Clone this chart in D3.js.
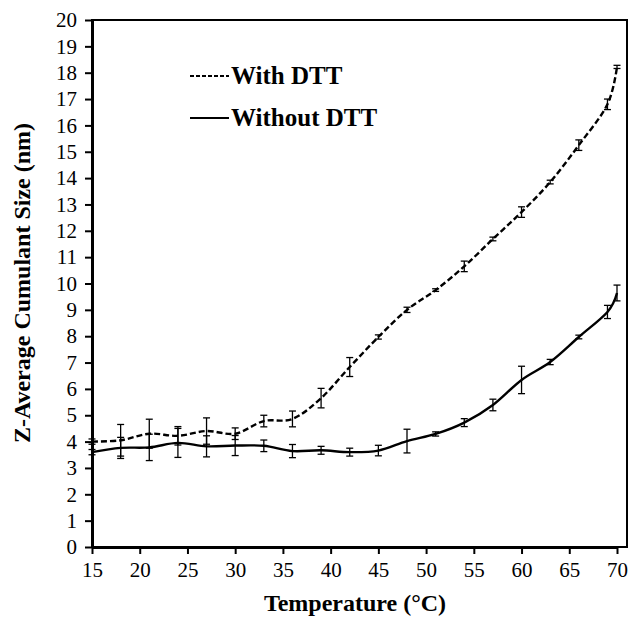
<!DOCTYPE html>
<html>
<head>
<meta charset="utf-8">
<script src="https://cdn.jsdelivr.net/npm/d3@7"></script>
<style>
  body { margin: 0; background: #fff; }
  svg { display: block; }
</style>
</head>
<body>
<svg id="canvas" width="630" height="619"></svg>
<script>
// temperatures where the size was measured
const temps = [15, 18, 21, 24, 27, 30, 33, 36, 39, 42, 45, 48, 51, 54, 57, 60, 63, 66, 69, 70];

// with DTT (dashed line)
const withDTT = [4.0, 4.05, 4.3, 4.22, 4.4, 4.3, 4.78, 4.86, 5.65, 6.83, 7.97, 9.0, 9.75, 10.65, 11.69, 12.71, 13.85, 15.25, 16.8, 18.22];
const withErr = [0.1, 0.6, 0.55, 0.35, 0.5, 0.22, 0.22, 0.3, 0.37, 0.36, 0.08, 0.1, 0.05, 0.2, 0.07, 0.2, 0.07, 0.2, 0.2, 0.06];

// without DTT (solid line)
const withoutDTT = [3.6, 3.76, 3.78, 3.95, 3.82, 3.85, 3.84, 3.64, 3.67, 3.6, 3.66, 4.02, 4.29, 4.72, 5.39, 6.34, 7.02, 7.97, 8.92, 9.64];
const withoutErr = [0.1, 0.4, 0.5, 0.55, 0.4, 0.38, 0.22, 0.25, 0.15, 0.15, 0.2, 0.45, 0.08, 0.15, 0.22, 0.52, 0.1, 0.07, 0.25, 0.3];

const xTicks = d3.range(15, 71, 5);
const yTicks = d3.range(0, 21, 1);

const serif = "'Liberation Serif', 'Times New Roman', serif";
const svg = d3.select("#canvas");

const x = d3.scaleLinear().domain([15, 70]).range([92, 617]);
const y = d3.scaleLinear().domain([0, 20]).range([547, 20]);

// plot frame (right side sits a bit past the last tick)
svg.append("rect")
  .attr("x", 92).attr("y", 20)
  .attr("width", 627 - 92).attr("height", 547 - 20)
  .attr("fill", "none").attr("stroke", "#000").attr("stroke-width", 2);

// y axis
const yAxis = svg.append("g")
  .attr("transform", "translate(92,0)")
  .call(d3.axisLeft(y).tickValues(yTicks).tickSize(7).tickPadding(8).tickSizeOuter(0));
yAxis.select(".domain").attr("stroke-width", 3);
yAxis.selectAll(".tick line").attr("stroke-width", 2);
yAxis.selectAll("text")
  .attr("font-family", serif)
  .attr("font-size", 21).attr("fill", "#000");

// x axis
const xAxis = svg.append("g")
  .attr("transform", "translate(0,547)")
  .call(d3.axisBottom(x).tickValues(xTicks).tickSize(7).tickPadding(8).tickSizeOuter(0));
xAxis.select(".domain").attr("stroke-width", 3);
xAxis.selectAll(".tick line").attr("stroke-width", 2);
xAxis.selectAll("text")
  .attr("font-family", serif)
  .attr("font-size", 21).attr("fill", "#000");

// axis titles
svg.append("text")
  .attr("x", 355).attr("y", 611)
  .attr("text-anchor", "middle")
  .attr("font-family", serif)
  .attr("font-weight", "bold").attr("font-size", 24)
  .text("Temperature (°C)");

svg.append("text")
  .attr("transform", "translate(30,283) rotate(-90)")
  .attr("text-anchor", "middle")
  .attr("font-family", serif)
  .attr("font-weight", "bold").attr("font-size", 24)
  .text("Z-Average Cumulant Size (nm)");

const line = d3.line()
  .x(d => x(d[0]))
  .y(d => y(d[1]))
  .curve(d3.curveCatmullRom.alpha(0));

const series = [
  { vals: withDTT, err: withErr, dash: "6,3" },
  { vals: withoutDTT, err: withoutErr, dash: null }
];

series.forEach(function(s) {
  const pts = temps.map((t, i) => [t, s.vals[i], s.err[i]]);

  svg.append("path")
    .datum(pts)
    .attr("d", line)
    .attr("fill", "none")
    .attr("stroke", "#000")
    .attr("stroke-width", 2.4)
    .attr("stroke-dasharray", s.dash);

  const eb = svg.append("g").selectAll("g")
    .data(pts)
    .enter().append("g")
    .attr("stroke", "#000")
    .attr("stroke-width", 1.3);

  eb.append("line")
    .attr("x1", d => x(d[0])).attr("x2", d => x(d[0]))
    .attr("y1", d => y(d[1] - d[2])).attr("y2", d => y(d[1] + d[2]));
  eb.append("line")
    .attr("x1", d => x(d[0]) - 3.5).attr("x2", d => x(d[0]) + 3.5)
    .attr("y1", d => y(d[1] + d[2])).attr("y2", d => y(d[1] + d[2]));
  eb.append("line")
    .attr("x1", d => x(d[0]) - 3.5).attr("x2", d => x(d[0]) + 3.5)
    .attr("y1", d => y(d[1] - d[2])).attr("y2", d => y(d[1] - d[2]));
});

// legend
const legend = [
  { label: "With DTT", dash: "4,2", yPos: 76 },
  { label: "Without DTT", dash: null, yPos: 118 }
];
legend.forEach(function(l) {
  svg.append("line")
    .attr("x1", 190).attr("x2", 229)
    .attr("y1", l.yPos).attr("y2", l.yPos)
    .attr("stroke", "#000").attr("stroke-width", 1.8)
    .attr("stroke-dasharray", l.dash);
  svg.append("text")
    .attr("x", 231).attr("y", l.yPos + 8)
    .attr("font-family", serif)
    .attr("font-weight", "bold").attr("font-size", 25)
    .text(l.label);
});
</script>
</body>
</html>
